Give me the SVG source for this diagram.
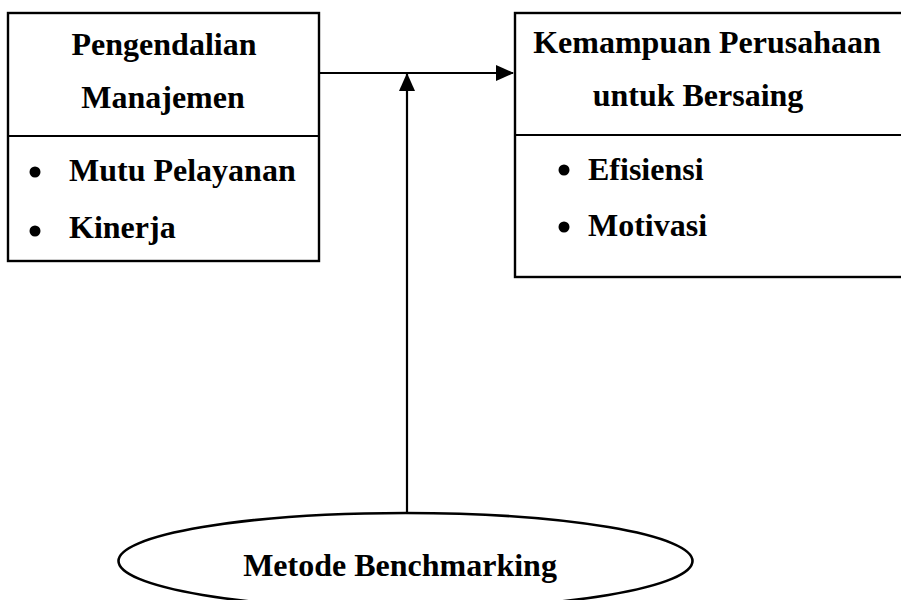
<svg xmlns="http://www.w3.org/2000/svg" width="901" height="600" viewBox="0 0 901 600">
  <style>
    .box { fill: #ffffff; stroke: #000000; stroke-width: 2.4; }
    .rule { stroke: #000000; stroke-width: 2.2; fill: none; }
    .lbl { font-family: "Liberation Serif", "Times New Roman", serif; font-weight: bold; font-size: 32px; fill: #000000; }
    .mid { text-anchor: middle; }
    .dot { fill: #000000; }
    .wire { stroke: #000000; stroke-width: 2.2; fill: none; }
  </style>
  <defs>
    <marker id="head" viewBox="0 0 18 16" refX="17" refY="8" markerWidth="18" markerHeight="16" markerUnits="userSpaceOnUse" orient="auto">
      <path d="M0,0 L18,8 L0,16 Z" fill="#000000"/>
    </marker>
  </defs>
  <rect width="901" height="600" fill="#ffffff"/>

  <!-- connectors -->
  <g id="connectors">
    <line class="wire" x1="320" y1="73" x2="513" y2="73" marker-end="url(#head)"/>
    <line class="wire" x1="407" y1="513" x2="407" y2="74" marker-end="url(#head)"/>
  </g>

  <!-- Pengendalian Manajemen -->
  <g id="pengendalian">
    <rect class="box" x="8" y="13" width="311" height="248"/>
    <line class="rule" x1="8" y1="136" x2="319" y2="136"/>
    <text class="lbl mid" x="164" y="55">Pengendalian</text>
    <text class="lbl mid" x="163" y="108">Manajemen</text>
    <circle class="dot" cx="35" cy="172" r="5.5"/>
    <text class="lbl" x="69" y="181">Mutu Pelayanan</text>
    <circle class="dot" cx="35" cy="231" r="5.5"/>
    <text class="lbl" x="69" y="238">Kinerja</text>
  </g>

  <!-- Kemampuan Perusahaan untuk Bersaing -->
  <g id="kemampuan">
    <rect class="box" x="515" y="13" width="400" height="264"/>
    <line class="rule" x1="515" y1="135" x2="901" y2="135"/>
    <text class="lbl mid" x="707" y="53">Kemampuan Perusahaan</text>
    <text class="lbl mid" x="698" y="106">untuk Bersaing</text>
    <circle class="dot" cx="564" cy="170" r="5.5"/>
    <text class="lbl" x="588" y="180">Efisiensi</text>
    <circle class="dot" cx="564" cy="227" r="5.5"/>
    <text class="lbl" x="588" y="236">Motivasi</text>
  </g>

  <!-- Metode Benchmarking -->
  <g id="benchmarking">
    <ellipse cx="405.5" cy="561" rx="287" ry="48" fill="#ffffff" stroke="#000000" stroke-width="2.6"/>
    <text class="lbl mid" x="400" y="576">Metode Benchmarking</text>
  </g>
</svg>
